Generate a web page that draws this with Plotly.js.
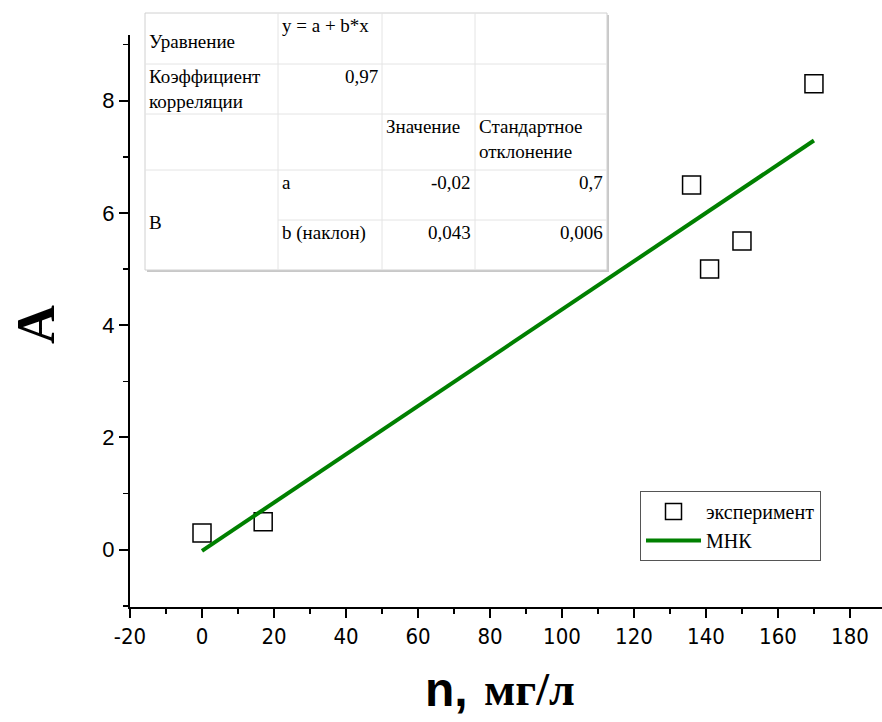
<!DOCTYPE html>
<html><head><meta charset="utf-8">
<script src="https://cdn.plot.ly/plotly-3.0.1.min.js"></script>
<style>body{margin:0;background:#fff}#chart{width:882px;height:722px}</style>
</head><body><div id="chart"></div>
<script>
// Data
const expX = [0, 17, 136, 141, 150, 170];
const expY = [0.3, 0.5, 6.5, 5.0, 5.5, 8.3];
const fitA = -0.02;
const fitB = 0.043;
const fitX = [0, 170];
const fitY = fitX.map(x => fitA + fitB * x);
const seriesNames = ["эксперимент", "МНК"];
const xTickVals = [-20, 0, 20, 40, 60, 80, 100, 120, 140, 160, 180];
const xTickText = ["-20", "0", "20", "40", "60", "80", "100", "120", "140", "160", "180"];
const yTitle = "A";
const tableRows = [
  ["Уравнение", "y = a + b*x", "", ""],
  ["Коэффициент<br>корреляции", "0,97", "", ""],
  ["", "", "Значение", "Стандартное<br>отклонение"],
  ["B", "a", "-0,02", "0,7"],
  ["", "b (наклон)", "0,043", "0,006"]
];

// layout geometry (pixels)
const W = 882, H = 722, L = 130, R = 0, T = 35, B = 115;
const pw = W - L - R, ph = H - T - B;
const px = v => (v - L) / pw;
const py = v => (H - B - v) / ph;
const SERIF = 'Liberation Serif';

const colX = [145, 278, 382, 475, 607];
const rowY = [13, 64, 114, 170, 220, 270];
const shapes = [];
const annotations = [];
shapes.push({type:'rect', xref:'paper', yref:'paper', x0:px(colX[0]+2), x1:px(colX[4]+2), y0:py(rowY[5]+2), y1:py(rowY[0]+2), line:{width:0}, fillcolor:'#c8c8c8', layer:'above'});
shapes.push({type:'rect', xref:'paper', yref:'paper', x0:px(colX[0]), x1:px(colX[4]), y0:py(rowY[5]), y1:py(rowY[0]), line:{width:1, color:'#d0d0d0'}, fillcolor:'#ffffff', layer:'above'});
for (let r = 1; r < 5; r++) {
  let x0 = colX[0];
  if (r === 4) x0 = colX[1];
  shapes.push({type:'line', xref:'paper', yref:'paper', x0:px(x0), x1:px(colX[4]), y0:py(rowY[r]), y1:py(rowY[r]), line:{width:1, color:'#e4e4e4'}, layer:'above'});
}
for (let c = 1; c < 4; c++) {
  shapes.push({type:'line', xref:'paper', yref:'paper', x0:px(colX[c]), x1:px(colX[c]), y0:py(rowY[5]), y1:py(rowY[0]), line:{width:1, color:'#e4e4e4'}, layer:'above'});
}
function cell(text, c, r, align, valign, rspan) {
  if (!text) return;
  rspan = rspan || 1;
  const pad = 2;
  let x, xanchor;
  if (align === 'right') { x = px(colX[c+1] - pad); xanchor = 'right'; }
  else { x = px(colX[c] + pad); xanchor = 'left'; }
  let y, yanchor;
  if (valign === 'middle') { y = py((rowY[r] + rowY[r+rspan]) / 2 + 3); yanchor = 'middle'; }
  else { y = py(rowY[r]); yanchor = 'top'; }
  annotations.push({text: text, xref:'paper', yref:'paper', x:x, y:y, xanchor:xanchor, yanchor:yanchor, showarrow:false,
    font:{family:SERIF, size:19, color:'#000'}, align:align});
}
cell(tableRows[0][0], 0, 0, 'left', 'middle');
cell(tableRows[0][1], 1, 0, 'left', 'top');
cell(tableRows[1][0], 0, 1, 'left', 'top');
cell(tableRows[1][1], 1, 1, 'right', 'top');
cell(tableRows[2][2], 2, 2, 'left', 'top');
cell(tableRows[2][3], 3, 2, 'left', 'top');
cell(tableRows[3][0], 0, 3, 'left', 'middle', 2);
cell(tableRows[3][1], 1, 3, 'left', 'top');
cell(tableRows[3][2], 2, 3, 'right', 'top');
cell(tableRows[3][3], 3, 3, 'right', 'top');
cell(tableRows[4][1], 1, 4, 'left', 'top');
cell(tableRows[4][2], 2, 4, 'right', 'top');
cell(tableRows[4][3], 3, 4, 'right', 'top');

annotations.push({text:'<b>n,</b>', xref:'paper', yref:'paper', x:px(470), y:py(690), xanchor:'right', yanchor:'middle', showarrow:false, font:{family:'Liberation Sans', size:48, color:'#000'}});
annotations.push({text:'<b>мг/л</b>', xref:'paper', yref:'paper', x:px(482), y:py(690), xanchor:'left', yanchor:'middle', showarrow:false, font:{family:SERIF, size:46, color:'#000'}});
annotations.push({text:'<b>'+yTitle+'</b>', xref:'paper', yref:'paper', x:px(36), y:py(325), xanchor:'center', yanchor:'middle', textangle:-90, showarrow:false, font:{family:SERIF, size:54, color:'#000'}});

const traces = [
  {x: expX, y: expY, mode:'markers', type:'scatter', name: seriesNames[0],
   marker:{symbol:'square-open', size:18, color:'#000', line:{width:1.5, color:'#000'}}},
  {x: fitX, y: fitY, mode:'lines', type:'scatter', name: seriesNames[1],
   line:{color:'#008000', width:4}}
];

const layout = {
  width: W, height: H,
  font: {family:SERIF, color:'#000'},
  margin: {l:L, r:R, t:T, b:B, pad:0},
  paper_bgcolor:'#fff', plot_bgcolor:'#fff',
  showlegend: true,
  legend: {x:px(640), y:py(491), xanchor:'left', yanchor:'top', bordercolor:'#555', borderwidth:1, bgcolor:'#fff',
           font:{family:SERIF, size:20, color:'#000'}, itemwidth:55, tracegroupgap:0},
  xaxis: {range:[-20, 188.9], showgrid:false, zeroline:false, showline:true, linewidth:2, linecolor:'#000',
          ticks:'outside', ticklen:9, tickwidth:2, tickcolor:'#000', tickmode:'array', tickvals:xTickVals, ticktext:xTickText,
          minor:{ticks:'outside', ticklen:5, tickwidth:1.5, tickcolor:'#000', dtick:10, tick0:0},
          tickfont:{family:'DejaVu Sans Condensed', size:22, color:'#000'},
          title:{text:''}},
  yaxis: {range:[-1.02, 9.17], showgrid:false, zeroline:false, showline:true, linewidth:2, linecolor:'#000',
          ticks:'outside', ticklen:9, tickwidth:2, tickcolor:'#000', dtick:2, tick0:0,
          minor:{ticks:'outside', ticklen:5, tickwidth:1.5, tickcolor:'#000', dtick:1},
          tickfont:{family:'Liberation Sans', size:22, color:'#000'},
          title:{text:''}},
  shapes: shapes,
  annotations: annotations
};
Plotly.newPlot('chart', traces, layout, {displayModeBar:false, staticPlot:true});
</script></body></html>
